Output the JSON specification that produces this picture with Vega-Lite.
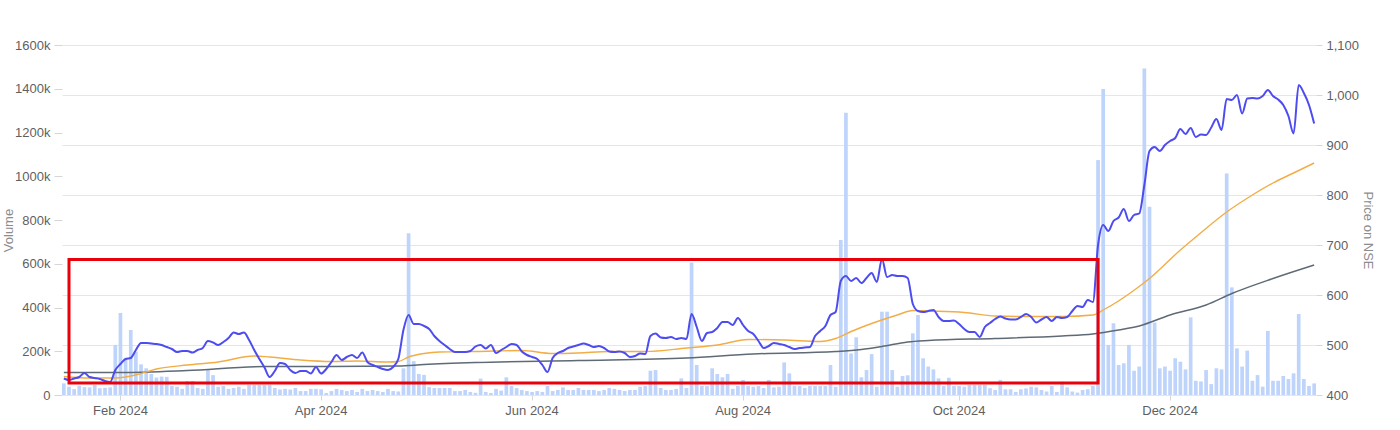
{
"$schema": "https://vega.github.io/schema/vega-lite/v6.json",
"autosize": {"type": "none"},
"width": 1254,
"height": 350,
"padding": {"left": 62, "top": 45, "right": 84, "bottom": 35},
"background": "#ffffff",
"config": {
  "view": {"stroke": null},
  "axis": {"labelFont": "Liberation Sans", "titleFont": "Liberation Sans", "labelFontSize": 13, "titleFontSize": 13, "labelColor": "#5f5f5f", "titleColor": "#8c8c8c", "titleFontWeight": "normal", "domain": false, "grid": false, "tickColor": "#d6d6d6"}
},
"datasets": {
  "daily": [
{"d":"2024-01-15","v":53000,"p":433},{"d":"2024-01-16","v":38000,"p":430},{"d":"2024-01-17","v":27000,"p":433},{"d":"2024-01-18","v":42000,"p":436},{"d":"2024-01-19","v":36000,"p":444},{"d":"2024-01-23","v":35000,"p":436},{"d":"2024-01-24","v":46000,"p":434},{"d":"2024-01-25","v":31000,"p":432},{"d":"2024-01-29","v":33000,"p":428},{"d":"2024-01-30","v":35000,"p":426},{"d":"2024-01-31","v":229000,"p":450},
{"d":"2024-02-01","v":375000,"p":462},{"d":"2024-02-02","v":170000,"p":472},{"d":"2024-02-05","v":297000,"p":474},{"d":"2024-02-06","v":198000,"p":490},{"d":"2024-02-07","v":140000,"p":504},{"d":"2024-02-08","v":122000,"p":504},{"d":"2024-02-09","v":96000,"p":503},{"d":"2024-02-12","v":80000,"p":502},{"d":"2024-02-13","v":84000,"p":500},{"d":"2024-02-14","v":83000,"p":496},{"d":"2024-02-15","v":41000,"p":492},{"d":"2024-02-16","v":38000,"p":486},{"d":"2024-02-19","v":28000,"p":488},{"d":"2024-02-20","v":64000,"p":488},{"d":"2024-02-21","v":64000,"p":485},{"d":"2024-02-22","v":32000,"p":490},{"d":"2024-02-23","v":28000,"p":494},{"d":"2024-02-26","v":114000,"p":508},{"d":"2024-02-27","v":91000,"p":505},{"d":"2024-02-28","v":38000,"p":500},{"d":"2024-02-29","v":41000,"p":506},
{"d":"2024-03-01","v":28000,"p":514},{"d":"2024-03-04","v":32000,"p":525},{"d":"2024-03-05","v":38000,"p":522},{"d":"2024-03-06","v":28000,"p":525},{"d":"2024-03-07","v":46000,"p":510},{"d":"2024-03-11","v":46000,"p":490},{"d":"2024-03-12","v":46000,"p":472},{"d":"2024-03-13","v":46000,"p":455},{"d":"2024-03-14","v":46000,"p":436},{"d":"2024-03-15","v":32000,"p":448},{"d":"2024-03-18","v":25000,"p":464},{"d":"2024-03-19","v":28000,"p":462},{"d":"2024-03-20","v":25000,"p":450},{"d":"2024-03-21","v":32000,"p":444},{"d":"2024-03-22","v":18000,"p":448},{"d":"2024-03-26","v":18000,"p":448},{"d":"2024-03-27","v":28000,"p":443},{"d":"2024-03-28","v":28000,"p":456},
{"d":"2024-04-01","v":26000,"p":443},{"d":"2024-04-02","v":9000,"p":452},{"d":"2024-04-03","v":18000,"p":466},{"d":"2024-04-04","v":28000,"p":480},{"d":"2024-04-05","v":23000,"p":470},{"d":"2024-04-08","v":18000,"p":476},{"d":"2024-04-09","v":23000,"p":480},{"d":"2024-04-10","v":14000,"p":474},{"d":"2024-04-12","v":28000,"p":485},{"d":"2024-04-15","v":18000,"p":466},{"d":"2024-04-16","v":23000,"p":460},{"d":"2024-04-18","v":18000,"p":456},{"d":"2024-04-19","v":14000,"p":452},{"d":"2024-04-22","v":28000,"p":450},{"d":"2024-04-23","v":18000,"p":456},{"d":"2024-04-24","v":16000,"p":472},{"d":"2024-04-25","v":122000,"p":530},{"d":"2024-04-26","v":739000,"p":560},{"d":"2024-04-29","v":155000,"p":542},{"d":"2024-04-30","v":96000,"p":542},
{"d":"2024-05-02","v":92000,"p":538},{"d":"2024-05-03","v":36000,"p":532},{"d":"2024-05-06","v":32000,"p":518},{"d":"2024-05-07","v":32000,"p":508},{"d":"2024-05-08","v":32000,"p":500},{"d":"2024-05-09","v":32000,"p":492},{"d":"2024-05-10","v":18000,"p":486},{"d":"2024-05-13","v":18000,"p":486},{"d":"2024-05-14","v":23000,"p":486},{"d":"2024-05-15","v":14000,"p":488},{"d":"2024-05-16","v":10000,"p":497},{"d":"2024-05-17","v":75000,"p":500},{"d":"2024-05-21","v":14000,"p":493},{"d":"2024-05-22","v":9000,"p":500},{"d":"2024-05-23","v":28000,"p":484},{"d":"2024-05-24","v":20000,"p":490},{"d":"2024-05-27","v":81000,"p":496},{"d":"2024-05-28","v":41000,"p":502},{"d":"2024-05-29","v":32000,"p":500},{"d":"2024-05-30","v":23000,"p":487},{"d":"2024-05-31","v":18000,"p":480},
{"d":"2024-06-03","v":14000,"p":476},{"d":"2024-06-04","v":18000,"p":472},{"d":"2024-06-05","v":14000,"p":460},{"d":"2024-06-06","v":41000,"p":446},{"d":"2024-06-07","v":18000,"p":474},{"d":"2024-06-10","v":23000,"p":484},{"d":"2024-06-11","v":35000,"p":488},{"d":"2024-06-12","v":23000,"p":494},{"d":"2024-06-13","v":23000,"p":497},{"d":"2024-06-14","v":32000,"p":500},{"d":"2024-06-18","v":23000,"p":503},{"d":"2024-06-19","v":23000,"p":500},{"d":"2024-06-20","v":23000,"p":496},{"d":"2024-06-21","v":18000,"p":498},{"d":"2024-06-24","v":23000,"p":494},{"d":"2024-06-25","v":32000,"p":487},{"d":"2024-06-26","v":28000,"p":486},{"d":"2024-06-27","v":23000,"p":487},{"d":"2024-06-28","v":18000,"p":484},
{"d":"2024-07-01","v":23000,"p":476},{"d":"2024-07-02","v":23000,"p":478},{"d":"2024-07-03","v":38000,"p":483},{"d":"2024-07-04","v":41000,"p":482},{"d":"2024-07-05","v":111000,"p":518},{"d":"2024-07-08","v":114000,"p":523},{"d":"2024-07-09","v":32000,"p":515},{"d":"2024-07-10","v":23000,"p":514},{"d":"2024-07-11","v":23000,"p":516},{"d":"2024-07-12","v":28000,"p":512},{"d":"2024-07-15","v":76000,"p":514},{"d":"2024-07-16","v":32000,"p":512},{"d":"2024-07-18","v":606000,"p":562},{"d":"2024-07-19","v":137000,"p":536},{"d":"2024-07-22","v":41000,"p":508},{"d":"2024-07-23","v":41000,"p":524},{"d":"2024-07-24","v":122000,"p":526},{"d":"2024-07-25","v":96000,"p":534},{"d":"2024-07-26","v":81000,"p":546},{"d":"2024-07-29","v":96000,"p":546},{"d":"2024-07-30","v":28000,"p":540},{"d":"2024-07-31","v":41000,"p":554},
{"d":"2024-08-01","v":69000,"p":540},{"d":"2024-08-02","v":41000,"p":528},{"d":"2024-08-05","v":38000,"p":522},{"d":"2024-08-06","v":41000,"p":508},{"d":"2024-08-07","v":32000,"p":494},{"d":"2024-08-08","v":69000,"p":498},{"d":"2024-08-09","v":35000,"p":504},{"d":"2024-08-12","v":38000,"p":502},{"d":"2024-08-13","v":149000,"p":500},{"d":"2024-08-14","v":99000,"p":496},{"d":"2024-08-16","v":41000,"p":492},{"d":"2024-08-19","v":41000,"p":494},{"d":"2024-08-20","v":32000,"p":495},{"d":"2024-08-21","v":41000,"p":496},{"d":"2024-08-22","v":41000,"p":518},{"d":"2024-08-23","v":41000,"p":528},{"d":"2024-08-26","v":41000,"p":538},{"d":"2024-08-27","v":137000,"p":560},{"d":"2024-08-28","v":38000,"p":566},{"d":"2024-08-29","v":709000,"p":628},{"d":"2024-08-30","v":1290000,"p":638},
{"d":"2024-09-02","v":190000,"p":628},{"d":"2024-09-03","v":264000,"p":634},{"d":"2024-09-04","v":81000,"p":624},{"d":"2024-09-05","v":114000,"p":634},{"d":"2024-09-06","v":187000,"p":644},{"d":"2024-09-09","v":38000,"p":626},{"d":"2024-09-10","v":381000,"p":672},{"d":"2024-09-11","v":381000,"p":636},{"d":"2024-09-12","v":114000,"p":640},{"d":"2024-09-13","v":38000,"p":638},{"d":"2024-09-16","v":87000,"p":638},{"d":"2024-09-17","v":90000,"p":634},{"d":"2024-09-18","v":282000,"p":582},{"d":"2024-09-19","v":366000,"p":568},{"d":"2024-09-20","v":168000,"p":566},{"d":"2024-09-23","v":130000,"p":568},{"d":"2024-09-24","v":117000,"p":570},{"d":"2024-09-25","v":76000,"p":556},{"d":"2024-09-26","v":41000,"p":548},{"d":"2024-09-27","v":79000,"p":548},{"d":"2024-09-30","v":41000,"p":549},
{"d":"2024-10-01","v":41000,"p":542},{"d":"2024-10-03","v":38000,"p":532},{"d":"2024-10-04","v":46000,"p":526},{"d":"2024-10-07","v":46000,"p":526},{"d":"2024-10-08","v":46000,"p":516},{"d":"2024-10-09","v":46000,"p":536},{"d":"2024-10-10","v":31000,"p":544},{"d":"2024-10-11","v":23000,"p":552},{"d":"2024-10-14","v":69000,"p":557},{"d":"2024-10-15","v":26000,"p":553},{"d":"2024-10-16","v":26000,"p":551},{"d":"2024-10-17","v":14000,"p":551},{"d":"2024-10-18","v":26000,"p":556},{"d":"2024-10-21","v":30000,"p":562},{"d":"2024-10-22","v":38000,"p":556},{"d":"2024-10-23","v":35000,"p":545},{"d":"2024-10-24","v":23000,"p":551},{"d":"2024-10-25","v":16000,"p":556},{"d":"2024-10-28","v":41000,"p":548},{"d":"2024-10-29","v":14000,"p":556},{"d":"2024-10-30","v":61000,"p":554},{"d":"2024-10-31","v":35000,"p":556},
{"d":"2024-11-01","v":16000,"p":568},{"d":"2024-11-04","v":11000,"p":578},{"d":"2024-11-05","v":23000,"p":576},{"d":"2024-11-06","v":26000,"p":590},{"d":"2024-11-07","v":41000,"p":586},{"d":"2024-11-08","v":1074000,"p":700},{"d":"2024-11-11","v":1399000,"p":740},{"d":"2024-11-12","v":229000,"p":728},{"d":"2024-11-13","v":328000,"p":748},{"d":"2024-11-14","v":137000,"p":755},{"d":"2024-11-18","v":145000,"p":772},{"d":"2024-11-19","v":229000,"p":748},{"d":"2024-11-21","v":111000,"p":760},{"d":"2024-11-22","v":130000,"p":763},{"d":"2024-11-25","v":1493000,"p":820},{"d":"2024-11-26","v":861000,"p":888},{"d":"2024-11-27","v":331000,"p":896},{"d":"2024-11-28","v":122000,"p":888},{"d":"2024-11-29","v":130000,"p":900},
{"d":"2024-12-02","v":111000,"p":908},{"d":"2024-12-03","v":168000,"p":914},{"d":"2024-12-04","v":152000,"p":932},{"d":"2024-12-05","v":117000,"p":922},{"d":"2024-12-06","v":355000,"p":934},{"d":"2024-12-09","v":65000,"p":916},{"d":"2024-12-10","v":62000,"p":921},{"d":"2024-12-11","v":114000,"p":920},{"d":"2024-12-12","v":50000,"p":935},{"d":"2024-12-13","v":122000,"p":952},{"d":"2024-12-16","v":117000,"p":930},{"d":"2024-12-17","v":1013000,"p":992},{"d":"2024-12-18","v":492000,"p":990},{"d":"2024-12-19","v":213000,"p":1000},{"d":"2024-12-20","v":130000,"p":963},{"d":"2024-12-23","v":203000,"p":993},{"d":"2024-12-24","v":65000,"p":994},{"d":"2024-12-26","v":91000,"p":993},{"d":"2024-12-27","v":38000,"p":998},{"d":"2024-12-30","v":293000,"p":1010},{"d":"2024-12-31","v":65000,"p":998},
{"d":"2025-01-01","v":65000,"p":991},{"d":"2025-01-02","v":87000,"p":980},{"d":"2025-01-03","v":73000,"p":958},{"d":"2025-01-06","v":99000,"p":923},{"d":"2025-01-07","v":370000,"p":1020},{"d":"2025-01-08","v":73000,"p":1004},{"d":"2025-01-09","v":41000,"p":980},{"d":"2025-01-10","v":53000,"p":943}
  ],
  "ma50": [
{"d":"2024-01-15","m":437},{"d":"2024-01-23","m":434},{"d":"2024-01-31","m":434},{"d":"2024-02-06","m":440},{"d":"2024-02-12","m":452},{"d":"2024-02-20","m":460},{"d":"2024-02-28","m":466},{"d":"2024-03-11","m":478},{"d":"2024-03-14","m":476},{"d":"2024-03-22","m":470},{"d":"2024-04-03","m":467},{"d":"2024-04-10","m":468},{"d":"2024-04-22","m":466},{"d":"2024-04-24","m":467},{"d":"2024-04-26","m":476},{"d":"2024-05-02","m":483},{"d":"2024-05-07","m":486},{"d":"2024-05-16","m":487},{"d":"2024-05-30","m":489},{"d":"2024-06-07","m":483},{"d":"2024-06-14","m":484},{"d":"2024-06-25","m":487},{"d":"2024-07-04","m":487},{"d":"2024-07-16","m":494},{"d":"2024-07-25","m":500},{"d":"2024-08-02","m":511},{"d":"2024-08-13","m":510},{"d":"2024-08-23","m":507},{"d":"2024-08-28","m":513},{"d":"2024-09-02","m":527},{"d":"2024-09-06","m":543},{"d":"2024-09-13","m":560},{"d":"2024-09-18","m":569},{"d":"2024-09-23","m":568},{"d":"2024-10-03","m":565},{"d":"2024-10-11","m":558},{"d":"2024-10-22","m":557},{"d":"2024-10-30","m":557},{"d":"2024-11-07","m":560},{"d":"2024-11-11","m":570},{"d":"2024-11-22","m":617},{"d":"2024-11-26","m":633},{"d":"2024-12-04","m":690},{"d":"2024-12-09","m":716},{"d":"2024-12-17","m":766},{"d":"2024-12-24","m":800},{"d":"2024-12-31","m":824},{"d":"2025-01-06","m":844},{"d":"2025-01-10","m":864}
  ],
  "ma200": [
{"d":"2024-01-15","m":445},{"d":"2024-02-01","m":445},{"d":"2024-02-20","m":449},{"d":"2024-03-13","m":457},{"d":"2024-04-03","m":457},{"d":"2024-04-24","m":458},{"d":"2024-05-02","m":461},{"d":"2024-05-16","m":465},{"d":"2024-06-14","m":469},{"d":"2024-07-16","m":474},{"d":"2024-08-05","m":482},{"d":"2024-08-28","m":487},{"d":"2024-09-04","m":491},{"d":"2024-09-10","m":497},{"d":"2024-09-17","m":506},{"d":"2024-09-23","m":509},{"d":"2024-10-11","m":513},{"d":"2024-10-30","m":518},{"d":"2024-11-07","m":522},{"d":"2024-11-14","m":530},{"d":"2024-11-22","m":538},{"d":"2024-12-02","m":560},{"d":"2024-12-11","m":580},{"d":"2024-12-18","m":603},{"d":"2024-12-31","m":633},{"d":"2025-01-10","m":660}
  ],
  "box": [
{"d":"2024-01-16","d2":"2024-11-08","p":424,"p2":671}
  ]
},
"encoding": {
  "x": {"field": "d", "type": "ordinal",
    "scale": {"type": "band", "paddingInner": 0.28, "paddingOuter": 0},
    "axis": {"title": null, "values": ["2024-02-01","2024-04-01","2024-06-03","2024-08-01","2024-10-01","2024-12-02"], "labelExpr": "utcFormat(toDate(datum.value), '%b %Y')", "labelAngle": 0, "tickSize": 5, "labelPadding": 4, "grid": false}}
},
"layer": [
  {
    "data": {"name": "daily"},
    "mark": {"type": "bar", "color": "#bfd4fb"},
    "encoding": {
      "y": {"field": "v", "type": "quantitative", "scale": {"domain": [0, 1600000], "nice": false},
        "axis": {"orient": "left", "title": "Volume", "values": [0,200000,400000,600000,800000,1000000,1200000,1400000,1600000], "labelExpr": "datum.value == 0 ? '0' : (datum.value / 1000) + 'k'", "tickSize": 8, "labelPadding": 4, "titleX": -54, "titleY": 185, "titleAngle": -90, "titleAlign": "center", "titleBaseline": "middle", "grid": false}}
    }
  },
  {
    "layer": [
      {
        "data": {"name": "ma200"},
        "mark": {"type": "line", "color": "#5e6a75", "strokeWidth": 1.5, "interpolate": "monotone"},
        "encoding": {"y": {"field": "m", "type": "quantitative", "scale": {"domain": [400, 1100], "nice": false},
          "axis": {"orient": "right", "title": "Price on NSE", "values": [400,500,600,700,800,900,1000,1100], "format": ",.0f", "tickSize": 6, "labelPadding": 4, "titleX": 51, "titleY": 185, "titleAngle": 90, "titleAlign": "center", "titleBaseline": "middle", "grid": true, "gridColor": "#e6e6e6"}}}
      },
      {
        "data": {"name": "ma50"},
        "mark": {"type": "line", "color": "#f2ad45", "strokeWidth": 1.4, "interpolate": "monotone"},
        "encoding": {"y": {"field": "m", "type": "quantitative", "scale": {"domain": [400, 1100], "nice": false},
          "axis": {"orient": "right", "title": "Price on NSE", "values": [400,500,600,700,800,900,1000,1100], "format": ",.0f", "tickSize": 6, "labelPadding": 4, "titleX": 51, "titleY": 185, "titleAngle": 90, "titleAlign": "center", "titleBaseline": "middle", "grid": true, "gridColor": "#e6e6e6"}}}
      },
      {
        "data": {"name": "daily"},
        "mark": {"type": "line", "color": "#4d4cf0", "strokeWidth": 2, "interpolate": "monotone"},
        "encoding": {"y": {"field": "p", "type": "quantitative", "scale": {"domain": [400, 1100], "nice": false},
          "axis": {"orient": "right", "title": "Price on NSE", "values": [400,500,600,700,800,900,1000,1100], "format": ",.0f", "tickSize": 6, "labelPadding": 4, "titleX": 51, "titleY": 185, "titleAngle": 90, "titleAlign": "center", "titleBaseline": "middle", "grid": true, "gridColor": "#e6e6e6"}}}
      },
      {
        "data": {"name": "box"},
        "mark": {"type": "rect", "fill": "transparent", "stroke": "#e8000b", "strokeWidth": 3},
        "encoding": {
          "x2": {"field": "d2"},
          "y": {"field": "p", "type": "quantitative", "scale": {"domain": [400, 1100], "nice": false},
            "axis": {"orient": "right", "title": "Price on NSE", "values": [400,500,600,700,800,900,1000,1100], "format": ",.0f", "tickSize": 6, "labelPadding": 4, "titleX": 51, "titleY": 185, "titleAngle": 90, "titleAlign": "center", "titleBaseline": "middle", "grid": true, "gridColor": "#e6e6e6"}},
          "y2": {"field": "p2"}
        }
      }
    ]
  }
],
"resolve": {"scale": {"y": "independent"}}
}
